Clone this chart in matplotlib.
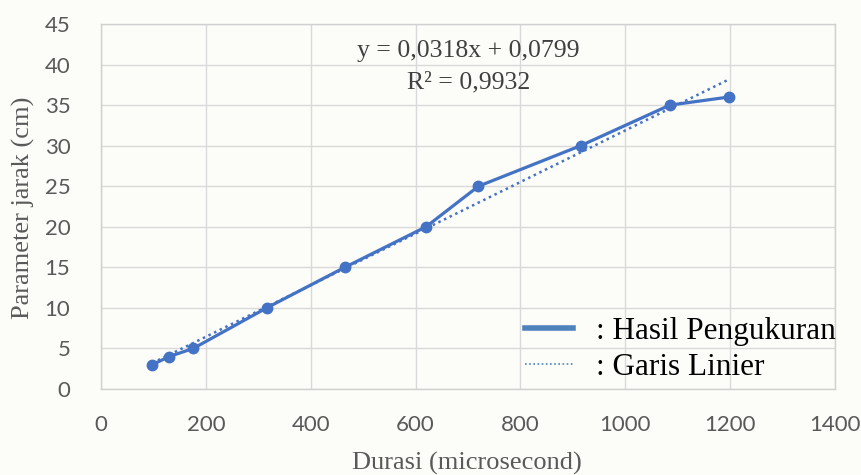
import matplotlib
matplotlib.use("Agg")
import matplotlib.pyplot as plt
from matplotlib.lines import Line2D
import numpy as np

durasi = [98, 130, 176, 316, 465, 620, 720, 915, 1085, 1198]
jarak = [3, 4, 5, 10, 15, 20, 25, 30, 35, 36]
slope, intercept = 0.0318, 0.0799
eq_text = "y = 0,0318x + 0,0799"
r2_text = "R² = 0,9932"
xticks = [0, 200, 400, 600, 800, 1000, 1200, 1400]
yticks = [0, 5, 10, 15, 20, 25, 30, 35, 40, 45]

blue = "#4472C4"
bg = "#fcfcf8"

fig = plt.figure(figsize=(8.62, 4.75), dpi=100, facecolor=bg)
ax = fig.add_axes([101/862, 1-389/475, (835-101)/862, (389-24)/475], facecolor=bg)

ax.plot(durasi, jarak, color=blue, lw=2.3, marker="o", ms=7.5, zorder=3)
xt = np.array([min(durasi), max(durasi)])
ax.plot(xt, slope*xt + intercept, color=blue, lw=1.8, ls=(0, (1, 1.5)), zorder=2)

ax.set_xlim(0, 1400)
ax.set_ylim(0, 45)
ax.set_xticks(xticks)
ax.set_yticks(yticks)
ax.grid(True, color="#d9d9d9", lw=1)
ax.set_axisbelow(True)
for s in ax.spines.values():
    s.set_color("#d0d0d0")
    s.set_linewidth(1)
ax.tick_params(length=0, labelsize=16, labelcolor="#595959")
ax.tick_params(axis="x", pad=19)
ax.tick_params(axis="y", pad=22)
for lab in ax.get_xticklabels() + ax.get_yticklabels():
    lab.set_family("Lato")

fig.text(467/862, 1-463/475, "Durasi (microsecond)", family="Liberation Serif", fontsize=19,
         color="#595959", ha="center", va="center")
fig.text(23/862, 1-208/475, "Parameter jarak (cm)", family="Liberation Serif", fontsize=19,
         color="#595959", ha="center", va="center", rotation=90)

fig.text(468/862, 1-51/475, eq_text, family="Liberation Serif", fontsize=18.5, color="#404040", ha="center", va="center")
fig.text(469/862, 1-82/475, r2_text, family="Liberation Serif", fontsize=18.5, color="#404040", ha="center", va="center")

handles = [Line2D([0], [0], color="#4F81BD", lw=4),
           Line2D([0], [0], color="#4F81BD", lw=1.2, ls=(0, (1, 1.5)))]
leg = fig.legend(handles, [": Hasil Pengukuran", ": Garis Linier"], loc="upper left",
                 bbox_to_anchor=(525/862, 1-317/475), frameon=False,
                 prop={"family": "Liberation Serif", "size": 22.5},
                 handlelength=1.55, handletextpad=0.72, labelspacing=0.22, borderpad=0, borderaxespad=0)

fig.savefig("out.png", dpi=100, facecolor=bg)
